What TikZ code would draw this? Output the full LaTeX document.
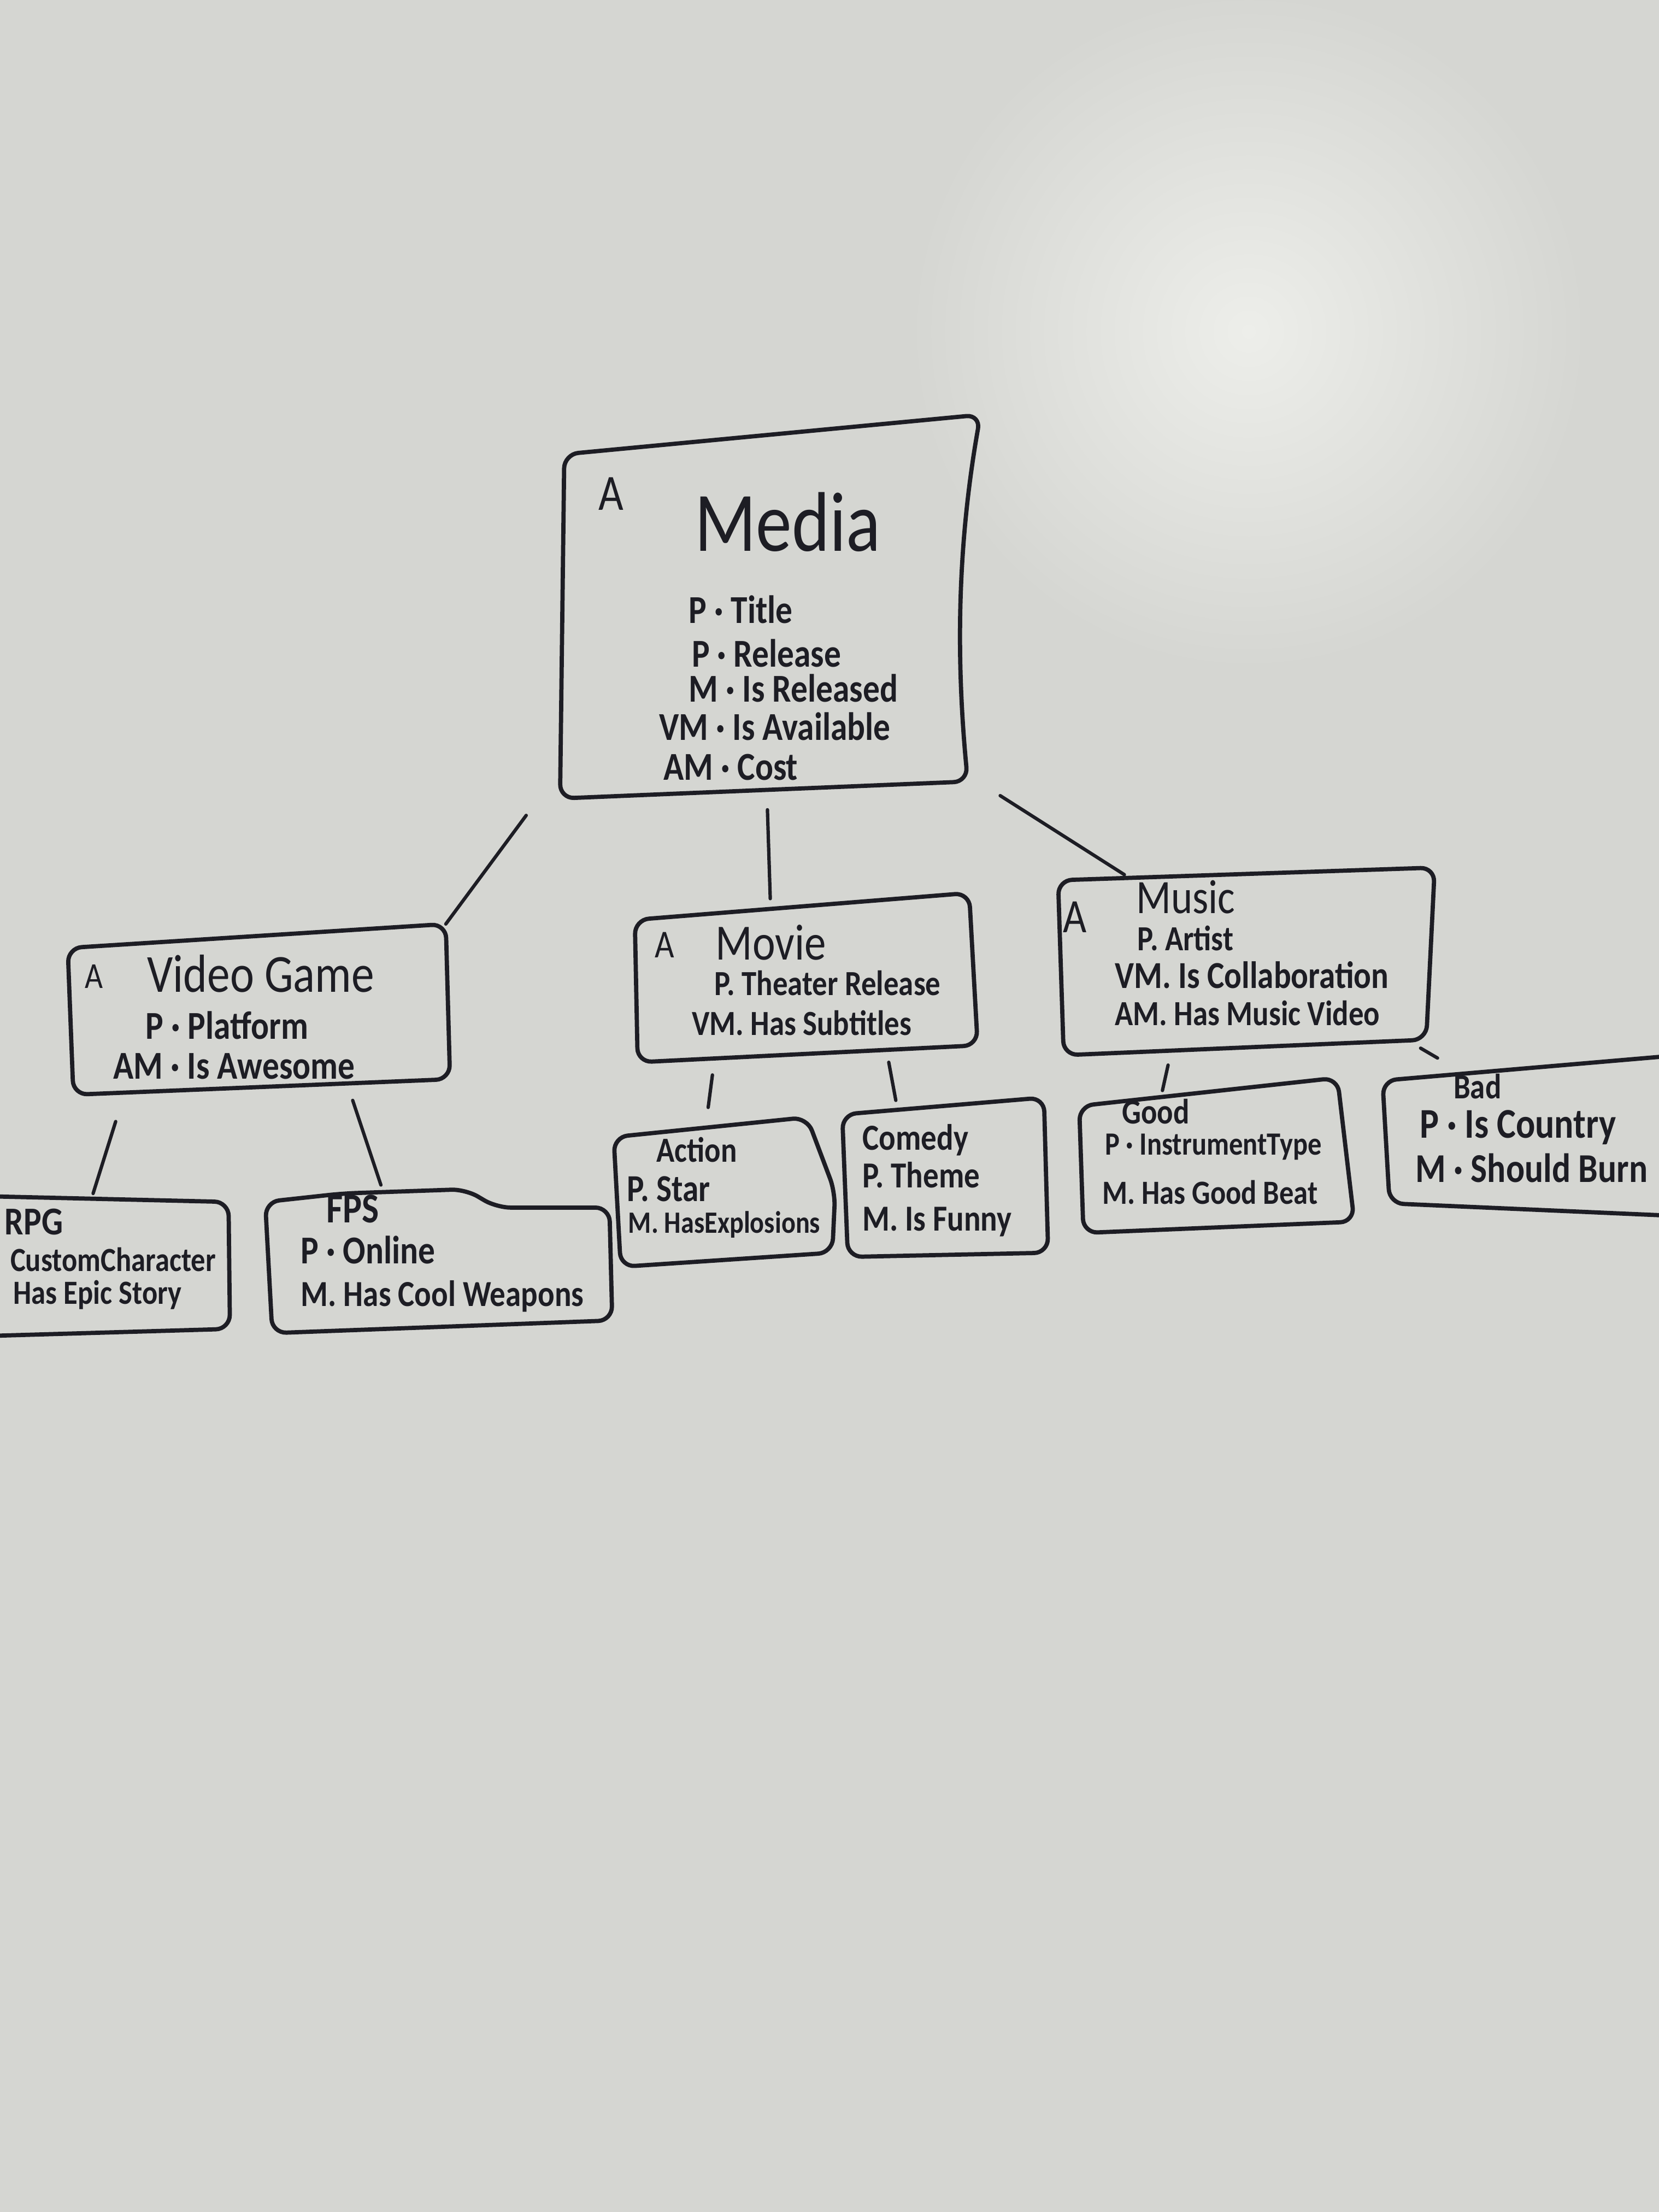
\documentclass[tikz,border=0pt]{standalone}
\usepackage{fontspec}
\newfontfamily\hand[FakeStretch=0.85]{Carlito}
\definecolor{ink}{HTML}{1D1D24}
\definecolor{board}{HTML}{D5D6D2}
\definecolor{glare}{HTML}{EDEEEA}
\begin{document}
\begin{tikzpicture}[x=0.5pt,y=-0.5pt,
  box/.style={draw=ink,line width=1.5pt,rounded corners=5pt,line join=round},
  conn/.style={draw=ink,line width=1.2pt,line cap=round},
  txt/.style={inner sep=0pt,text=ink,anchor=west},
  fs/.style={font=\hand\fontsize{#1}{#1}\selectfont},
  fb/.style={font=\hand\bfseries\fontsize{#1}{#1}\selectfont},
]
\useasboundingbox (0,0) rectangle (1176,1568);
\fill[board] (0,0) rectangle (1176,1568);
\shade[inner color=glare, outer color=board] (885,235) circle (240);
\clip (0,0) rectangle (1176,1568);

% ---------- box corners ----------
\coordinate (mTL) at (400,322); \coordinate (mTR) at (695,294);
\coordinate (mBR) at (686,554); \coordinate (mBL) at (397,566);
\coordinate (vTL) at (48,672);  \coordinate (vTR) at (316,655);
\coordinate (vBR) at (319,765); \coordinate (vBL) at (52,776);
\coordinate (oTL) at (450,652); \coordinate (oTR) at (687,633);
\coordinate (oBR) at (693,741); \coordinate (oBL) at (452,753);
\coordinate (uTL) at (750,624); \coordinate (uTR) at (1017,615);
\coordinate (uBR) at (1011,737); \coordinate (uBL) at (754,748);

% ---------- boxes ----------
\draw[box] (mTL) -- (mTR) .. controls (678,390) and (678,470) .. (mBR) -- (mBL) -- cycle;
\draw[box] (vTL) -- (vTR) -- (vBR) -- (vBL) -- cycle;
\draw[box] (oTL) -- (oTR) -- (oBR) -- (oBL) -- cycle;
\draw[box] (uTL) -- (uTR) -- (uBR) -- (uBL) -- cycle;
% RPG
\draw[box] (-8,848) -- (162,852) -- (163,942) -- (-8,947);
% FPS
\draw[box] (188,852) -- (243,846) -- (330,843) -- (352,856) -- (432,856) -- (434,936) -- (193,945) -- cycle;
% Action
\draw[box] (435,806) -- (572,792) -- (592,845) -- (590,888) -- (440,898) -- cycle;
% Comedy
\draw[box] (597,790) -- (740,778) -- (743,888) -- (601,891) -- cycle;
% Good
\draw[box] (765,784) -- (948,764) -- (960,866) -- (768,874) -- cycle;
% Bad
\draw[box] (1190,748) -- (980,766) -- (985,853) -- (1190,862);

% ---------- connector ends ----------
\coordinate (cm1) at (373,578);
\coordinate (cm2) at (544,574); \coordinate (co2) at (546,637);
\coordinate (cm3) at (709,564); \coordinate (cu3) at (797,620);
\coordinate (cv1) at (82,795);  \coordinate (cr1) at (66,846);
\coordinate (cv2) at (250,780); \coordinate (cf2) at (270,840);
\coordinate (co3) at (505,762); \coordinate (ca3) at (502,785);
\coordinate (co4) at (630,753); \coordinate (cc4) at (635,780);
\coordinate (cu5) at (828,755); \coordinate (cg5) at (824,773);
\coordinate (cu6) at (1007,743); \coordinate (cb6) at (1019,750);

\draw[conn] (cm1) -- (vTR);
\draw[conn] (cm2) -- (co2);
\draw[conn] (cm3) -- (cu3);
\draw[conn] (cv1) -- (cr1);
\draw[conn] (cv2) -- (cf2);
\draw[conn] (co3) -- (ca3);
\draw[conn] (co4) -- (cc4);
\draw[conn] (cu5) -- (cg5);
\draw[conn] (cu6) -- (cb6);

% ---------- Media ----------
\node[txt,fs=18] (mA) at (424,350) {A};
\node[txt,fs=30] (mT) at (492,370) {Media};
\node[txt,fb=14] (m1) at (488,432) {P · Title};
\node[txt,fb=14] (m2) at (490,463) {P · Release};
\node[txt,fb=14] (m3) at (488,488) {M · Is Released};
\node[txt,fb=14] (m4) at (467,515) {VM · Is Available};
\node[txt,fb=14] (m5) at (470,544) {AM · Cost};

% ---------- Video Game ----------
\node[txt,fs=13] (vA) at (60,692) {A};
\node[txt,fs=19] (vT) at (104,690) {Video Game};
\node[txt,fb=14] (v1) at (103,727) {P · Platform};
\node[txt,fb=14] (v2) at (80,756) {AM · Is Awesome};

% ---------- Movie ----------
\node[txt,fs=14] (oA) at (464,670) {A};
\node[txt,fs=18] (oT) at (507,668) {Movie};
\node[txt,fb=12.5] (o1) at (506,697) {P. Theater Release};
\node[txt,fb=12.5] (o2) at (490,725) {VM. Has Subtitles};

% ---------- Music ----------
\node[txt,fs=17] (uA) at (753,650) {A};
\node[txt,fs=17] (uT) at (805,636) {Music};
\node[txt,fb=12.5] (u1) at (806,665) {P. Artist};
\node[txt,fb=13.5] (u2) at (790,691) {VM. Is Collaboration};
\node[txt,fb=12.5] (u3) at (790,718) {AM. Has Music Video};

% ---------- RPG ----------
\node[txt,fb=14] (rT) at (3,866) {RPG};
\node[txt,fb=12] (r1) at (7,893) {CustomCharacter};
\node[txt,fb=12] (r2) at (9,918) {Has Epic Story};

% ---------- FPS ----------
\node[txt,fb=15] (fT) at (231,857) {FPS};
\node[txt,fb=14] (f1) at (213,886) {P · Online};
\node[txt,fb=13] (f2) at (213,919) {M. Has Cool Weapons};

% ---------- Action ----------
\node[txt,fb=12.5] (aT) at (465,815) {Action};
\node[txt,fb=13.5] (a1) at (444,843) {P. Star};
\node[txt,fb=11] (a2) at (445,868) {M. HasExplosions};

% ---------- Comedy ----------
\node[txt,fb=13] (cT) at (611,808) {Comedy};
\node[txt,fb=13] (c1) at (611,833) {P. Theme};
\node[txt,fb=13] (c2) at (611,866) {M. Is Funny};

% ---------- Good ----------
\node[txt,fb=12.5] (gT) at (795,788) {Good};
\node[txt,fb=11.5] (g1) at (783,813) {P · InstrumentType};
\node[txt,fb=12] (g2) at (781,845) {M. Has Good Beat};

% ---------- Bad ----------
\node[txt,fb=12.5] (bT) at (1030,770) {Bad};
\node[txt,fb=15] (b1) at (1006,799) {P · Is Country};
\node[txt,fb=14.5] (b2) at (1003,828) {M · Should Burn};
\end{tikzpicture}
\end{document}
